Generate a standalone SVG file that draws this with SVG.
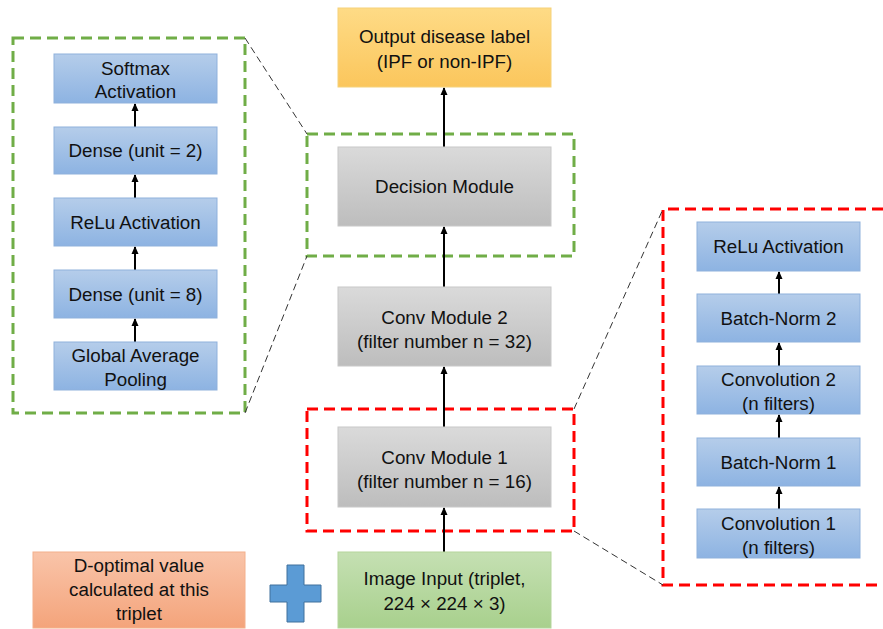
<svg xmlns="http://www.w3.org/2000/svg" width="883" height="629" viewBox="0 0 883 629">
<defs>
<linearGradient id="gBlue" x1="0" y1="0" x2="0" y2="1"><stop offset="0" stop-color="#b5cdea"/><stop offset="1" stop-color="#8db3e2"/></linearGradient>
<linearGradient id="gGray" x1="0" y1="0" x2="0" y2="1"><stop offset="0" stop-color="#dadada"/><stop offset="1" stop-color="#bdbdbd"/></linearGradient>
<linearGradient id="gYel" x1="0" y1="0" x2="0" y2="1"><stop offset="0" stop-color="#fedb86"/><stop offset="1" stop-color="#fbc65c"/></linearGradient>
<linearGradient id="gGrn" x1="0" y1="0" x2="0" y2="1"><stop offset="0" stop-color="#c5e0b3"/><stop offset="1" stop-color="#a8d08d"/></linearGradient>
<linearGradient id="gOrg" x1="0" y1="0" x2="0" y2="1"><stop offset="0" stop-color="#f9c4a9"/><stop offset="1" stop-color="#f4a47b"/></linearGradient>
<marker id="ah" markerWidth="8" markerHeight="8" refX="7" refY="4" orient="auto" markerUnits="userSpaceOnUse"><path d="M0,0.5 L8,4 L0,7.5 Z" fill="#000"/></marker>
<style>
.blue{fill:url(#gBlue);stroke:#8fb1dc;stroke-width:1}
.gray{fill:url(#gGray);stroke:#c8c8c8;stroke-width:1}
.yel{fill:url(#gYel);stroke:#f5d27a;stroke-width:1}
.grn{fill:url(#gGrn);stroke:#b5d59c;stroke-width:1}
.org{fill:url(#gOrg);stroke:#f4b08c;stroke-width:1}
text{font-family:"Liberation Sans","Open Sans",sans-serif;font-size:18.8px;fill:#111;text-anchor:middle}
.arr{stroke:#000;stroke-width:2;fill:none;marker-end:url(#ah)}
.dg{fill:none;stroke:#70ad47;stroke-width:3;stroke-dasharray:11,6}
.dr{fill:none;stroke:#ff0000;stroke-width:3;stroke-dasharray:11,6}
.dk{fill:none;stroke:#333;stroke-width:1;stroke-dasharray:7,4}
</style>
</defs>

<g id="frames">
<rect class="dg" x="13" y="38" width="232" height="375"/>
<rect class="dg" x="307" y="134" width="267" height="122"/>
<rect class="dr" x="307" y="409" width="267" height="122"/>
<path class="dr" d="M900,209 H663 V585 H900"/>
</g>

<g id="connectors">
<line class="dk" x1="245" y1="38" x2="307" y2="134"/>
<line class="dk" x1="245" y1="413" x2="307" y2="256"/>
<line class="dk" x1="574" y1="409" x2="663" y2="209"/>
<line class="dk" x1="574" y1="531" x2="663" y2="585"/>
<line class="arr" x1="444" y1="147" x2="444" y2="88"/>
<line class="arr" x1="444" y1="287" x2="444" y2="227"/>
<line class="arr" x1="444" y1="427" x2="444" y2="367"/>
<line class="arr" x1="444" y1="552" x2="444" y2="508"/>
<line class="arr" x1="135" y1="127" x2="135" y2="104"/>
<line class="arr" x1="135" y1="198" x2="135" y2="175"/>
<line class="arr" x1="135" y1="270" x2="135" y2="247"/>
<line class="arr" x1="135" y1="342" x2="135" y2="319"/>
<line class="arr" x1="779" y1="294" x2="779" y2="272"/>
<line class="arr" x1="779" y1="366" x2="779" y2="343"/>
<line class="arr" x1="779" y1="438" x2="779" y2="415"/>
<line class="arr" x1="779" y1="509" x2="779" y2="487"/>
</g>

<g id="output"><rect class="yel" x="338" y="8" width="213" height="79"/><text x="444.5" y="43">Output disease label</text><text x="444.5" y="68">(IPF or non-IPF)</text></g>
<g id="decision"><rect class="gray" x="338" y="147" width="213" height="79"/><text x="444.5" y="193">Decision Module</text></g>
<g id="conv2"><rect class="gray" x="338" y="287" width="213" height="79"/><text x="444.5" y="324">Conv Module 2</text><text x="444.5" y="348">(filter number n = 32)</text></g>
<g id="conv1"><rect class="gray" x="338" y="427" width="213" height="80"/><text x="444.5" y="464">Conv Module 1</text><text x="444.5" y="488">(filter number n = 16)</text></g>
<g id="image"><rect class="grn" x="338" y="552" width="213" height="76"/><text x="444.5" y="585">Image Input (triplet,</text><text x="444.5" y="610">224 × 224 × 3)</text></g>
<g id="doptimal"><rect class="org" x="33" y="552" width="212" height="76"/><text x="139" y="572">D-optimal value</text><text x="139" y="596">calculated at this</text><text x="139" y="620">triplet</text></g>
<g id="plus"><path d="M287,565 H304 V585 H321 V602 H304 V622 H287 V602 H270 V585 H287 Z" fill="#5b9bd5" stroke="#41719c" stroke-width="1"/></g>

<g id="softmax"><rect class="blue" x="54" y="54" width="163" height="49"/><text x="135.5" y="75">Softmax</text><text x="135.5" y="98">Activation</text></g>
<g id="dense2"><rect class="blue" x="54" y="127" width="163" height="47"/><text x="135.5" y="157">Dense (unit = 2)</text></g>
<g id="relu1"><rect class="blue" x="54" y="198" width="163" height="48"/><text x="135.5" y="229">ReLu Activation</text></g>
<g id="dense8"><rect class="blue" x="54" y="270" width="163" height="48"/><text x="135.5" y="301">Dense (unit = 8)</text></g>
<g id="gap"><rect class="blue" x="54" y="342" width="163" height="48"/><text x="135.5" y="362">Global Average</text><text x="135.5" y="386">Pooling</text></g>

<g id="relu2"><rect class="blue" x="697" y="222" width="163" height="49"/><text x="778.5" y="253">ReLu Activation</text></g>
<g id="bn2"><rect class="blue" x="697" y="294" width="163" height="48"/><text x="778.5" y="325">Batch-Norm 2</text></g>
<g id="convo2"><rect class="blue" x="697" y="366" width="163" height="48"/><text x="778.5" y="386">Convolution 2</text><text x="778.5" y="410">(n filters)</text></g>
<g id="bn1"><rect class="blue" x="697" y="438" width="163" height="48"/><text x="778.5" y="469">Batch-Norm 1</text></g>
<g id="convo1"><rect class="blue" x="697" y="509" width="163" height="49"/><text x="778.5" y="530">Convolution 1</text><text x="778.5" y="554">(n filters)</text></g>
</svg>
